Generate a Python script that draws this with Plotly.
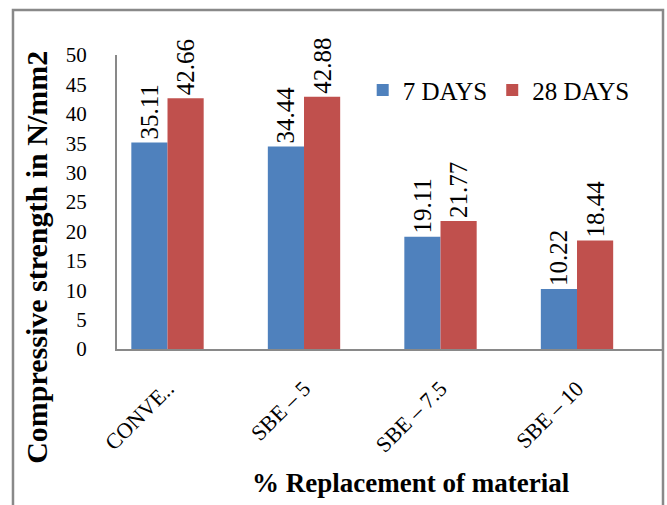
import plotly.graph_objects as go

categories = ["CONVE..", "SBE – 5", "SBE – 7.5", "SBE – 10"]
days7 = [35.11, 34.44, 19.11, 10.22]
days28 = [42.66, 42.88, 21.77, 18.44]
series_names = ["7 DAYS", "28 DAYS"]
y_ticks = [0, 5, 10, 15, 20, 25, 30, 35, 40, 45, 50]

FONT = "Liberation Serif"
BLUE = "#4F81BD"
RED = "#C0504D"
GRAY = "#898989"

fig = go.Figure()
for name, vals, col in [(series_names[0], days7, BLUE), (series_names[1], days28, RED)]:
    fig.add_trace(go.Bar(
        x=categories, y=vals, name=name,
        marker=dict(color=col, line=dict(width=0)),
        text=[f"{v:.2f}" for v in vals],
        textposition="outside", textangle=-90,
        textfont=dict(family=FONT, size=25, color="black"),
        outsidetextfont=dict(family=FONT, size=25, color="black"),
        cliponaxis=False, constraintext="none",
    ))

fig.update_layout(
    width=667, height=505,
    margin=dict(l=117, r=4, t=55, b=156, autoexpand=False),
    paper_bgcolor="white", plot_bgcolor="white",
    barmode="group", bargap=0.47, bargroupgap=0,
    font=dict(family=FONT, color="black"),
    showlegend=True,
    legend=dict(orientation="h", x=0.45, xanchor="left", y=0.88, yanchor="middle",
                font=dict(family=FONT, size=25, color="black"),
                bgcolor="rgba(0,0,0,0)", traceorder="normal"),
    xaxis=dict(range=[-0.37, 3.63], showgrid=False, showline=True, linecolor=GRAY, linewidth=2,
               ticks="outside", ticklen=16, tickcolor="rgba(0,0,0,0)", tickangle=-45,
               tickfont=dict(family=FONT, size=22, color="black"),
               zeroline=False, automargin=False),
    yaxis=dict(range=[0, 50], tickvals=y_ticks, showgrid=False, showline=True, linecolor=GRAY,
               linewidth=2, ticks="outside", ticklen=24, tickcolor="rgba(0,0,0,0)",
               tickfont=dict(family=FONT, size=21, color="black"), zeroline=False,
               automargin=False),
)

# outer chart border
fig.add_shape(type="rect", xref="paper", yref="paper",
              x0=-0.1905, x1=1.0, y0=-0.56, y1=1.153,
              line=dict(color=GRAY, width=2.5), fillcolor="rgba(0,0,0,0)", layer="above")

fig.add_annotation(text="<b>Compressive strength in N/mm2</b>", xref="paper", yref="paper",
                   x=-0.1465, y=0.31, xanchor="center", yanchor="middle",
                   textangle=-90, showarrow=False,
                   font=dict(family=FONT, size=30, color="black"))
fig.add_annotation(text="<b>% Replacement of material</b>", xref="paper", yref="paper",
                   x=0.538, y=-0.456, xanchor="center", yanchor="middle", showarrow=False,
                   font=dict(family=FONT, size=27, color="black"))

fig.write_html("out.html", config={"displayModeBar": False},
               post_script="document.body.style.margin='0';")
